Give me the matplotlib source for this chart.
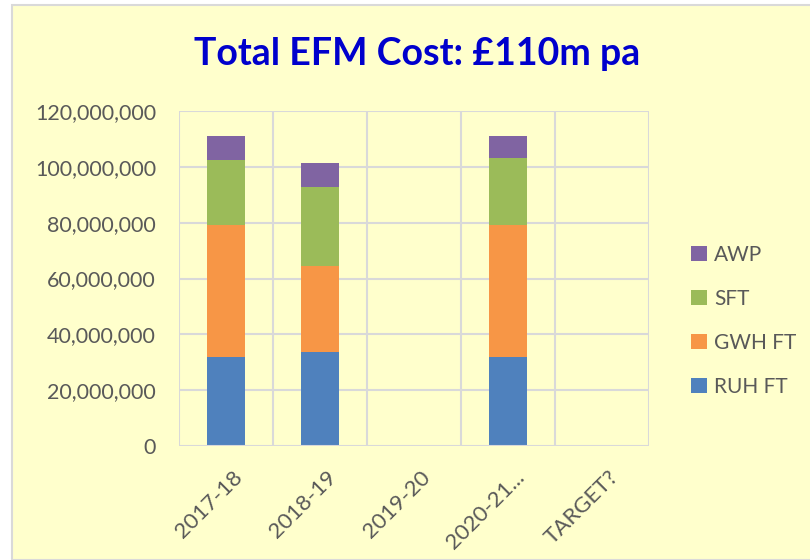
import numpy as np
import matplotlib.pyplot as plt
import matplotlib.transforms as mtrans
from matplotlib.patches import Rectangle
from matplotlib.ticker import FuncFormatter

categories = ['2017-18', '2018-19', '2019-20', '2020-21...', 'TARGET?']
series_names = ['RUH FT', 'GWH FT', 'SFT', 'AWP']
ruh = [32.0e6, 33.5e6, 0, 32.0e6, 0]
gwh = [47.3e6, 30.8e6, 0, 47.3e6, 0]
sft = [23.1e6, 28.3e6, 0, 23.9e6, 0]
awp = [8.5e6, 8.6e6, 0, 7.7e6, 0]
colors = ['#4F81BD', '#F79646', '#9BBB59', '#8064A2']

plt.rcParams['font.family'] = ['Lato', 'DejaVu Sans']

bg = '#FFFFCC'
fig = plt.figure(figsize=(8.1, 5.6), dpi=100)
fig.patch.set_facecolor('white')
fig.patches.append(Rectangle((12 / 810, 0), 1, 1 - 5 / 560, transform=fig.transFigure,
                             facecolor=bg, edgecolor='#D9D9D9', linewidth=1.5, zorder=-1))

ax = fig.add_axes([179 / 810, 1 - 446 / 560, 470 / 810, 335 / 560])
ax.set_facecolor(bg)

x = np.arange(len(categories))
bottom = np.zeros(len(categories))
bars = []
for vals, name, c in zip([ruh, gwh, sft, awp], series_names, colors):
    b = ax.bar(x, vals, width=0.4, bottom=bottom, color=c, label=name, zorder=3)
    bars.append(b)
    bottom += np.array(vals)

ax.set_xlim(-0.5, len(categories) - 0.5)
ax.set_ylim(0, 120e6)
ax.set_yticks(np.arange(0, 120e6 + 1, 20e6))
ax.yaxis.set_major_formatter(FuncFormatter(lambda v, p: f'{int(v):,}'))
ax.set_xticks(x)
ax.set_xticklabels(categories, rotation=45, ha='right', rotation_mode='anchor')
ax.tick_params(axis='both', length=0, labelsize=15.5, colors='#595959')
ax.tick_params(axis='x', labelsize=16, pad=15)
ax.tick_params(axis='y', pad=16.5)
shift = mtrans.ScaledTranslation(6 / 100, 0, fig.dpi_scale_trans)
for lbl in ax.get_xticklabels():
    lbl.set_transform(lbl.get_transform() + shift)

grid_c = '#D9D9D9'
for yv in np.arange(20e6, 120e6 + 1, 20e6):
    ax.axhline(yv, color=grid_c, lw=1.5, zorder=1)
for xv in np.arange(-0.5, len(categories), 1.0):
    ax.axvline(xv, color=grid_c, lw=1.5, zorder=1)
for s in ax.spines.values():
    s.set_visible(False)
ax.axhline(0, color=grid_c, lw=1.5, zorder=4)

fig.text(0.515, 0.903, 'Total EFM Cost: £110m pa', ha='center', va='center',
         fontsize=27, fontweight='bold', color='#0000CC')

handles = bars[::-1]
labels = series_names[::-1]
fig.legend(handles, labels, loc='center left', bbox_to_anchor=(0.83, 0.427),
           frameon=False, fontsize=15, labelcolor='#595959', handlelength=0.75,
           handleheight=0.75, labelspacing=1.15, handletextpad=0.35)

fig.savefig('out.png', dpi=100, facecolor=fig.get_facecolor())
